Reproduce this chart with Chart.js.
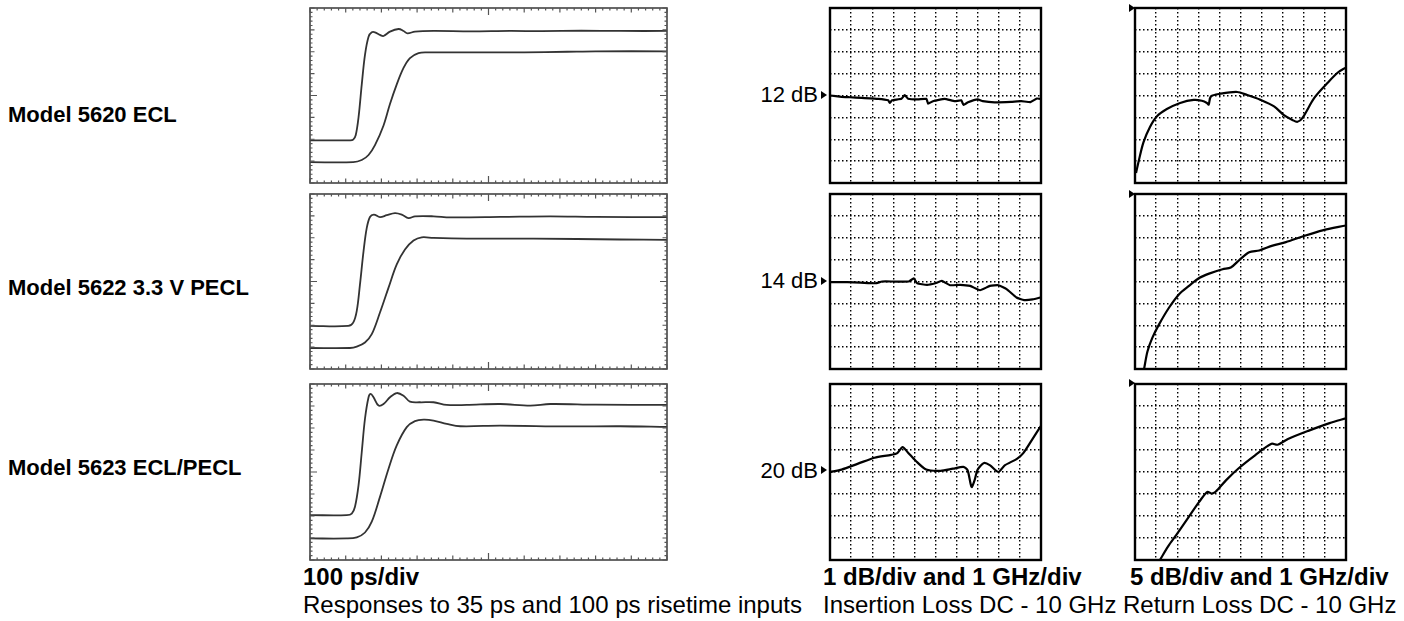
<!DOCTYPE html>
<html>
<head>
<meta charset="utf-8">
<script src="https://cdn.jsdelivr.net/npm/chart.js@4/dist/chart.umd.min.js"></script>
<style>
  body { margin: 0; background: #fff; }
  #page { position: relative; width: 1404px; height: 621px; overflow: hidden; font-family: "Liberation Sans", Arial, sans-serif; color: #000; }
  .box { position: absolute; }
  .txt { position: absolute; white-space: nowrap; line-height: 24px; }
  .model { font-weight: bold; font-size: 22px; }
  .cap { font-size: 24px; }
  .b { font-weight: bold; }
  .db { font-size: 22px; text-align: right; width: 120px; }
  .arrow { position: absolute; width: 0; height: 0; border-top: 4px solid transparent; border-bottom: 4px solid transparent; border-left: 6px solid #000; }
</style>
</head>
<body>
<div id="page">
  <div class="txt model" style="left:8px; top:103px;">Model 5620 ECL</div>
  <div class="txt model" style="left:8px; top:276px;">Model 5622 3.3 V PECL</div>
  <div class="txt model" style="left:8px; top:456px;">Model 5623 ECL/PECL</div>

  <div class="txt db" style="left:698px; top:83px;">12 dB</div>
  <div class="txt db" style="left:698px; top:269px;">14 dB</div>
  <div class="txt db" style="left:698px; top:459px;">20 dB</div>
  <div class="arrow" style="left:821px; top:91px;"></div>
  <div class="arrow" style="left:821px; top:277px;"></div>
  <div class="arrow" style="left:821px; top:466px;"></div>
  <div class="arrow" style="left:1129px; top:4px;"></div>
  <div class="arrow" style="left:1129px; top:190px;"></div>
  <div class="arrow" style="left:1129px; top:379px;"></div>

  <div class="txt cap b" style="left:303px; top:565px;">100 ps/div</div>
  <div class="txt cap" style="left:303px; top:593px;">Responses to 35 ps and 100 ps risetime inputs</div>
  <div class="txt cap b" style="left:823px; top:565px;">1 dB/div and 1 GHz/div</div>
  <div class="txt cap" style="left:823px; top:593px;">Insertion Loss DC - 10 GHz</div>
  <div class="txt cap b" style="left:1130px; top:565px;">5 dB/div and 1 GHz/div</div>
  <div class="txt cap" style="left:1123px; top:593px;">Return Loss DC - 10 GHz</div>
</div>
<script>
// step responses, time in ps, level in divisions (0..8)
const t5620a = [0, 112, 121, 128, 136, 145, 154, 164, 173, 182, 196, 206, 224, 248, 262, 273, 294, 346, 450, 560, 650, 760, 870, 1000];
const v5620a = [1.95, 1.95, 1.98, 2.18, 3.01, 4.51, 5.86, 6.69, 6.89, 6.89, 6.77, 6.72, 6.92, 7.04, 6.95, 6.84, 6.92, 6.95, 6.93, 6.95, 6.94, 6.96, 6.95, 6.95];
const t5620b = [0, 121, 145, 164, 182, 206, 224, 243, 262, 280, 304, 332, 439, 600, 720, 800, 1000];
const v5620b = [0.95, 0.95, 1.05, 1.28, 1.73, 2.63, 3.61, 4.51, 5.26, 5.71, 5.94, 5.97, 5.97, 5.97, 6.0, 6.02, 6.02];

const t5622a = [0, 107, 121, 131, 140, 150, 159, 168, 179, 196, 215, 238, 257, 276, 294, 346, 393, 533, 673, 800, 1000];
const v5622a = [1.97, 1.97, 2.12, 2.66, 3.87, 5.39, 6.45, 6.95, 7.06, 6.94, 7.03, 7.13, 7.06, 6.90, 6.98, 6.98, 6.93, 6.95, 6.98, 6.95, 6.94];
const t5622b = [0, 112, 131, 154, 173, 196, 220, 243, 266, 290, 313, 346, 439, 626, 869, 1000];
const v5622b = [0.96, 0.96, 1.02, 1.21, 1.59, 2.58, 3.72, 4.78, 5.46, 5.87, 6.02, 5.99, 5.96, 5.96, 5.92, 5.90];

const t5623a = [0, 103, 117, 126, 136, 145, 154, 164, 170, 178, 192, 206, 224, 243, 262, 280, 308, 346, 383, 439, 533, 617, 673, 800, 1000];
const v5623a = [2.04, 2.04, 2.11, 2.42, 3.40, 4.91, 6.42, 7.40, 7.55, 7.40, 7.02, 7.09, 7.40, 7.59, 7.47, 7.20, 7.17, 7.17, 7.05, 7.05, 7.09, 7.02, 7.09, 7.06, 7.05];
const t5623b = [0, 103, 131, 154, 173, 196, 220, 243, 271, 294, 318, 346, 383, 421, 533, 720, 869, 1000];
const v5623b = [0.98, 0.98, 1.03, 1.25, 1.74, 2.87, 4.15, 5.21, 6.04, 6.31, 6.38, 6.34, 6.19, 6.08, 6.11, 6.07, 6.08, 6.05];

// insertion loss, GHz vs dB from reference line
const f5620il = [0, 0.55, 0.94, 1.5, 2.28, 2.76, 2.83, 2.94, 3.39, 3.54, 3.70, 4.17, 4.57, 4.65, 4.88, 5.43, 5.91, 6.22, 6.33, 6.54, 7.0, 7.24, 7.8, 8.58, 9.06, 9.5, 9.8, 10];
const d5620il = [0, -0.06, -0.08, -0.11, -0.15, -0.22, -0.34, -0.22, -0.15, 0.02, -0.15, -0.18, -0.15, -0.37, -0.26, -0.15, -0.26, -0.22, -0.43, -0.31, -0.18, -0.26, -0.31, -0.29, -0.26, -0.3, -0.14, -0.16];
const f5622il = [0, 0.82, 1.45, 2.16, 2.47, 3.02, 3.73, 3.97, 4.13, 4.6, 4.99, 5.3, 5.69, 6.17, 6.64, 7.11, 7.58, 7.98, 8.37, 8.84, 9.2, 9.6, 10];
const d5622il = [-0.03, -0.03, -0.05, -0.08, 0, 0, 0, 0.14, -0.08, -0.15, -0.08, 0.03, -0.17, -0.15, -0.2, -0.4, -0.2, -0.17, -0.35, -0.73, -0.85, -0.82, -0.72];
const f5623il = [0, 0.55, 1.33, 2.11, 2.9, 3.19, 3.44, 3.68, 4.07, 4.56, 5.24, 5.83, 6.32, 6.52, 6.71, 6.85, 7.0, 7.3, 7.59, 7.98, 8.28, 8.86, 9.16, 9.55, 10];
const d5623il = [0, 0.11, 0.38, 0.65, 0.78, 0.86, 1.13, 0.9, 0.5, 0.11, 0.05, 0.15, 0.23, 0.08, -0.68, -0.38, 0.11, 0.41, 0.3, 0, 0.3, 0.6, 0.86, 1.43, 2.1];

// return loss, GHz vs dB (top line = 0 dB)
const f5620rl = [0.05, 0.16, 0.4, 0.71, 1.03, 1.51, 2.14, 2.78, 3.17, 3.41, 3.49, 3.6, 4.05, 4.84, 5.32, 5.95, 6.59, 7.06, 7.46, 7.7, 7.94, 8.49, 9.13, 9.6, 10];
const d5620rl = [-37.7, -35.3, -30.7, -27.2, -24.8, -23.1, -21.7, -21.0, -21.2, -21.7, -22.1, -20.2, -19.6, -19.2, -19.9, -21.0, -22.5, -24.5, -25.6, -26.0, -25.1, -20.6, -17.1, -14.8, -13.6];
const f5622rl = [0.43, 0.59, 0.82, 1.14, 1.61, 2.09, 2.56, 3.04, 3.51, 4.15, 4.54, 4.94, 5.41, 5.89, 6.52, 7.15, 7.94, 8.89, 10];
const d5622rl = [-40, -36, -32.9, -29.8, -26, -22.9, -21, -19.2, -18.2, -17.2, -16.8, -15.1, -13.3, -12.9, -11.8, -11.0, -9.7, -8.3, -7.2];
const f5623rl = [1.18, 1.57, 1.96, 2.55, 3.04, 3.43, 3.63, 3.82, 4.31, 4.9, 5.69, 6.47, 6.76, 7.25, 8.24, 9.22, 10];
const d5623rl = [-40, -36.9, -34.3, -30.2, -26.8, -24.5, -24.9, -24.5, -21.9, -19.2, -16.2, -13.6, -13.8, -12.5, -10.6, -8.9, -7.8];

const pair = (xs, ys) => xs.map((x, i) => ({ x: x, y: ys[i] }));
const PAD = 3;

const framePlugin = {
    id: 'frame',
    afterDraw(chart, args, opts) {
        const { ctx, chartArea: a } = chart;
        ctx.save();
        ctx.lineWidth = opts.width;
        ctx.strokeStyle = opts.color;
        ctx.strokeRect(a.left, a.top, a.right - a.left, a.bottom - a.top);
        ctx.restore();
    }
};

// inward graticule ticks of the sampling scope screen
const scopeTicks = {
    id: 'scopeTicks',
    afterDraw(chart) {
        const { ctx, chartArea: a, scales } = chart;
        ctx.save();
        ctx.strokeStyle = '#555';
        ctx.lineWidth = 1.2;
        ctx.beginPath();
        for (let i = 0; i <= 50; i++) {
            const px = scales.x.getPixelForValue(i * 20);
            const len = i === 25 ? 7 : (i % 5 === 0 ? 4.5 : 2.5);
            ctx.moveTo(px, a.top); ctx.lineTo(px, a.top + len);
            ctx.moveTo(px, a.bottom); ctx.lineTo(px, a.bottom - len);
        }
        for (let i = 0; i <= 40; i++) {
            const py = scales.y.getPixelForValue(i * 0.2);
            const len = i === 20 ? 7 : (i % 5 === 0 ? 4.5 : 2.5);
            ctx.moveTo(a.left, py); ctx.lineTo(a.left + len, py);
            ctx.moveTo(a.right, py); ctx.lineTo(a.right - len, py);
        }
        ctx.stroke();
        ctx.restore();
    }
};

function makeChart(box, datasets, xMax, yMin, yMax, yStep, kind) {
    const page = document.getElementById('page');
    const div = document.createElement('div');
    div.className = 'box';
    div.style.left = (box[0] - PAD) + 'px';
    div.style.top = (box[1] - PAD) + 'px';
    const canvas = document.createElement('canvas');
    canvas.width = box[2] - box[0] + PAD * 2;
    canvas.height = box[3] - box[1] + PAD * 2;
    div.appendChild(canvas);
    page.appendChild(div);

    const scope = kind === 'scope';
    const gridCfg = {
        display: !scope,
        color: '#000',
        lineWidth: 1.4,
        drawTicks: false
    };
    new Chart(canvas.getContext('2d'), {
        type: 'line',
        data: { datasets: datasets },
        options: {
            responsive: false,
            animation: false,
            devicePixelRatio: 1,
            layout: { padding: PAD },
            plugins: {
                legend: { display: false },
                tooltip: { enabled: false },
                frame: { width: scope ? 1.6 : 2.4, color: scope ? '#444' : '#000' }
            },
            elements: { point: { radius: 0 } },
            scales: {
                x: {
                    type: 'linear', min: 0, max: xMax,
                    ticks: { display: false, stepSize: xMax / 10 },
                    grid: gridCfg,
                    border: { display: false, dash: [1.5, 2.5] }
                },
                y: {
                    type: 'linear', min: yMin, max: yMax,
                    ticks: { display: false, stepSize: yStep },
                    grid: gridCfg,
                    border: { display: false, dash: [1.5, 2.5] }
                }
            }
        },
        plugins: scope ? [framePlugin, scopeTicks] : [framePlugin]
    });
}

function scopeSet(xs, ys) {
    return { data: pair(xs, ys), borderColor: '#333', borderWidth: 1.8, tension: 0.35, fill: false };
}
function vnaSet(xs, ys, tension) {
    return { data: pair(xs, ys), borderColor: '#000', borderWidth: 2.2, tension: tension, fill: false };
}

const scopeX = [310, 667];
const midX = [830, 1041];
const rightX = [1135, 1346];
const rows = [[8, 183], [194, 369], [384, 560]];

makeChart([scopeX[0], rows[0][0], scopeX[1], rows[0][1]], [scopeSet(t5620a, v5620a), scopeSet(t5620b, v5620b)], 1000, 0, 8, 1, 'scope');
makeChart([scopeX[0], rows[1][0], scopeX[1], rows[1][1]], [scopeSet(t5622a, v5622a), scopeSet(t5622b, v5622b)], 1000, 0, 8, 1, 'scope');
makeChart([scopeX[0], rows[2][0], scopeX[1], rows[2][1]], [scopeSet(t5623a, v5623a), scopeSet(t5623b, v5623b)], 1000, 0, 8, 1, 'scope');

makeChart([midX[0], rows[0][0], midX[1], rows[0][1]], [vnaSet(f5620il, d5620il, 0.1)], 10, -4, 4, 1, 'vna');
makeChart([midX[0], rows[1][0], midX[1], rows[1][1]], [vnaSet(f5622il, d5622il, 0.15)], 10, -4, 4, 1, 'vna');
makeChart([midX[0], rows[2][0], midX[1], rows[2][1]], [vnaSet(f5623il, d5623il, 0.25)], 10, -4, 4, 1, 'vna');

makeChart([rightX[0], rows[0][0], rightX[1], rows[0][1]], [vnaSet(f5620rl, d5620rl, 0.3)], 10, -40, 0, 5, 'vna');
makeChart([rightX[0], rows[1][0], rightX[1], rows[1][1]], [vnaSet(f5622rl, d5622rl, 0.3)], 10, -40, 0, 5, 'vna');
makeChart([rightX[0], rows[2][0], rightX[1], rows[2][1]], [vnaSet(f5623rl, d5623rl, 0.3)], 10, -40, 0, 5, 'vna');
</script>
</body>
</html>
